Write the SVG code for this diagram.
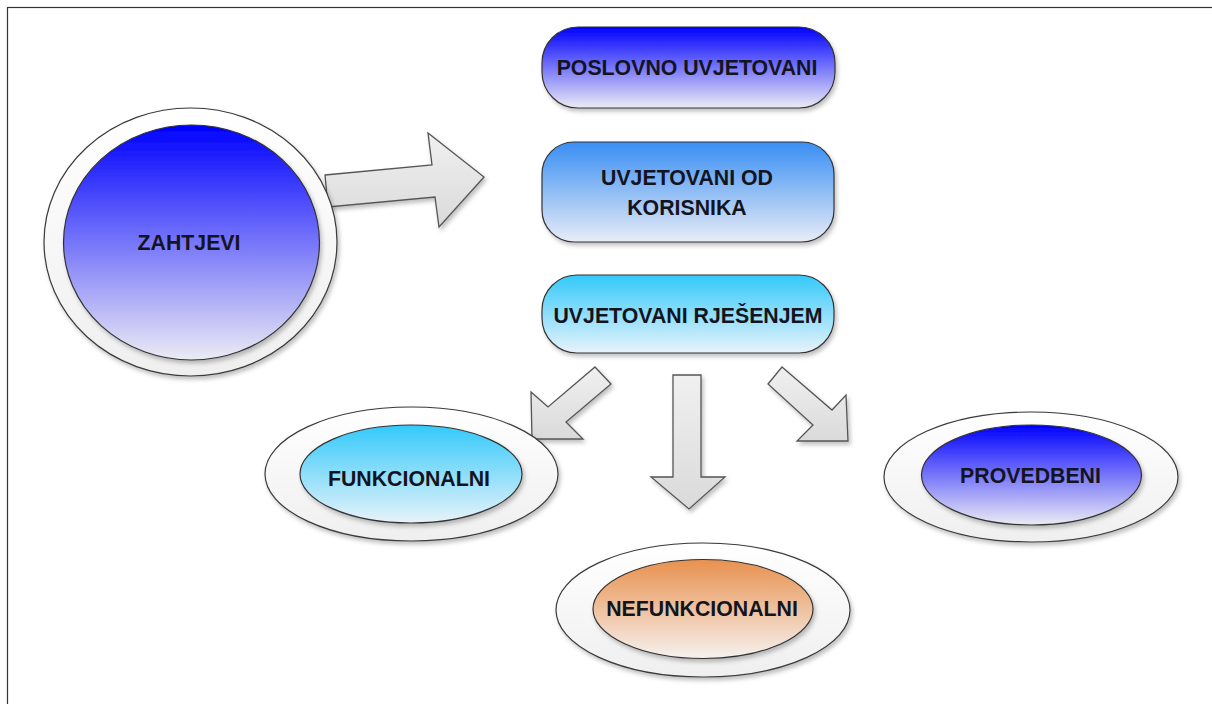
<svg xmlns="http://www.w3.org/2000/svg" width="1212" height="704" viewBox="0 0 1212 704">
<defs>
<linearGradient id="gBlue" x1="0" y1="0" x2="0" y2="1"><stop offset="0" stop-color="#0000ff"/><stop offset="1" stop-color="#ecebf4"/></linearGradient>
<linearGradient id="gMid" x1="0" y1="0" x2="0" y2="1"><stop offset="0" stop-color="#388ef4"/><stop offset="1" stop-color="#e8ecf6"/></linearGradient>
<linearGradient id="gCyan" x1="0" y1="0" x2="0" y2="1"><stop offset="0" stop-color="#33c9fb"/><stop offset="1" stop-color="#e8f3fa"/></linearGradient>
<linearGradient id="gOrange" x1="0" y1="0" x2="0" y2="1"><stop offset="0" stop-color="#e8914e"/><stop offset="1" stop-color="#f6f1ef"/></linearGradient>
<linearGradient id="gRing" x1="0" y1="0" x2="0" y2="1"><stop offset="0" stop-color="#ffffff"/><stop offset="1" stop-color="#efefef"/></linearGradient>
<linearGradient id="gArrow" x1="0" y1="0" x2="0" y2="1"><stop offset="0" stop-color="#f0f0f0"/><stop offset="1" stop-color="#dadada"/></linearGradient>
<filter id="sh" x="-10%" y="-10%" width="125%" height="130%"><feDropShadow dx="2" dy="3" stdDeviation="2" flood-color="#000" flood-opacity="0.25"/></filter>
</defs>
<style>
.ring{fill:url(#gRing);stroke:#3a3a3a;stroke-width:1.2;filter:url(#sh)}
.core{stroke:#333;stroke-width:1.2;filter:url(#sh)}
.box{stroke:#333;stroke-width:1.2;filter:url(#sh)}
.arr{fill:url(#gArrow);stroke:#555;stroke-width:1.3;stroke-linejoin:miter;filter:url(#sh)}
.lbl{font-family:"Liberation Sans",Arial,sans-serif;font-weight:bold;font-size:21.3px;fill:#14141e;text-anchor:middle}
</style>
<rect x="7.5" y="7.5" width="1220" height="720" fill="#fff" stroke="#333" stroke-width="1.2"/>
<g id="connectors">
<polygon class="arr" points="325,175 432,165 428,133 484,177 439,227 435,197 328,207"/>
<polygon class="arr" points="595,367 611,384 566,422 583,439 532,439 531,392 548,407"/>
<polygon class="arr" points="673,375 701,375 701,477 725,477 689,509 651,477 673,477"/>
<polygon class="arr" points="782,367 832,410 846,395 848,441 797,441 813,425 768,384"/>
</g>
<g id="zahtjevi">
<ellipse class="ring" cx="190.5" cy="242" rx="146.5" ry="134"/>
<ellipse class="core" cx="191.5" cy="242.5" rx="128" ry="117.5" fill="url(#gBlue)"/>
<text class="lbl" x="189" y="249.5">ZAHTJEVI</text>
</g>
<g id="poslovno">
<rect class="box" x="542" y="27" width="293" height="81" rx="36" fill="url(#gBlue)"/>
<text class="lbl" x="687" y="74.5">POSLOVNO UVJETOVANI</text>
</g>
<g id="korisnika">
<rect class="box" x="542" y="142" width="292" height="100" rx="32" fill="url(#gMid)"/>
<text class="lbl" x="687" y="184.5">UVJETOVANI OD</text>
<text class="lbl" x="687" y="214.5">KORISNIKA</text>
</g>
<g id="rjesenjem">
<rect class="box" x="542" y="275" width="292" height="78" rx="35" fill="url(#gCyan)"/>
<text class="lbl" x="688" y="322.5">UVJETOVANI RJEŠENJEM</text>
</g>
<g id="funkcionalni">
<ellipse class="ring" cx="411.5" cy="474" rx="146.5" ry="67"/>
<ellipse class="core" cx="411" cy="474" rx="111" ry="49" fill="url(#gCyan)"/>
<text class="lbl" x="409" y="485.5">FUNKCIONALNI</text>
</g>
<g id="nefunkcionalni">
<ellipse class="ring" cx="703" cy="610" rx="147" ry="67"/>
<ellipse class="core" cx="703" cy="609" rx="110" ry="49.5" fill="url(#gOrange)"/>
<text class="lbl" x="702" y="616">NEFUNKCIONALNI</text>
</g>
<g id="provedbeni">
<ellipse class="ring" cx="1031" cy="477" rx="147" ry="65"/>
<ellipse class="core" cx="1031.5" cy="475" rx="110" ry="50" fill="url(#gBlue)"/>
<text class="lbl" x="1030.5" y="482.5">PROVEDBENI</text>
</g>
</svg>
